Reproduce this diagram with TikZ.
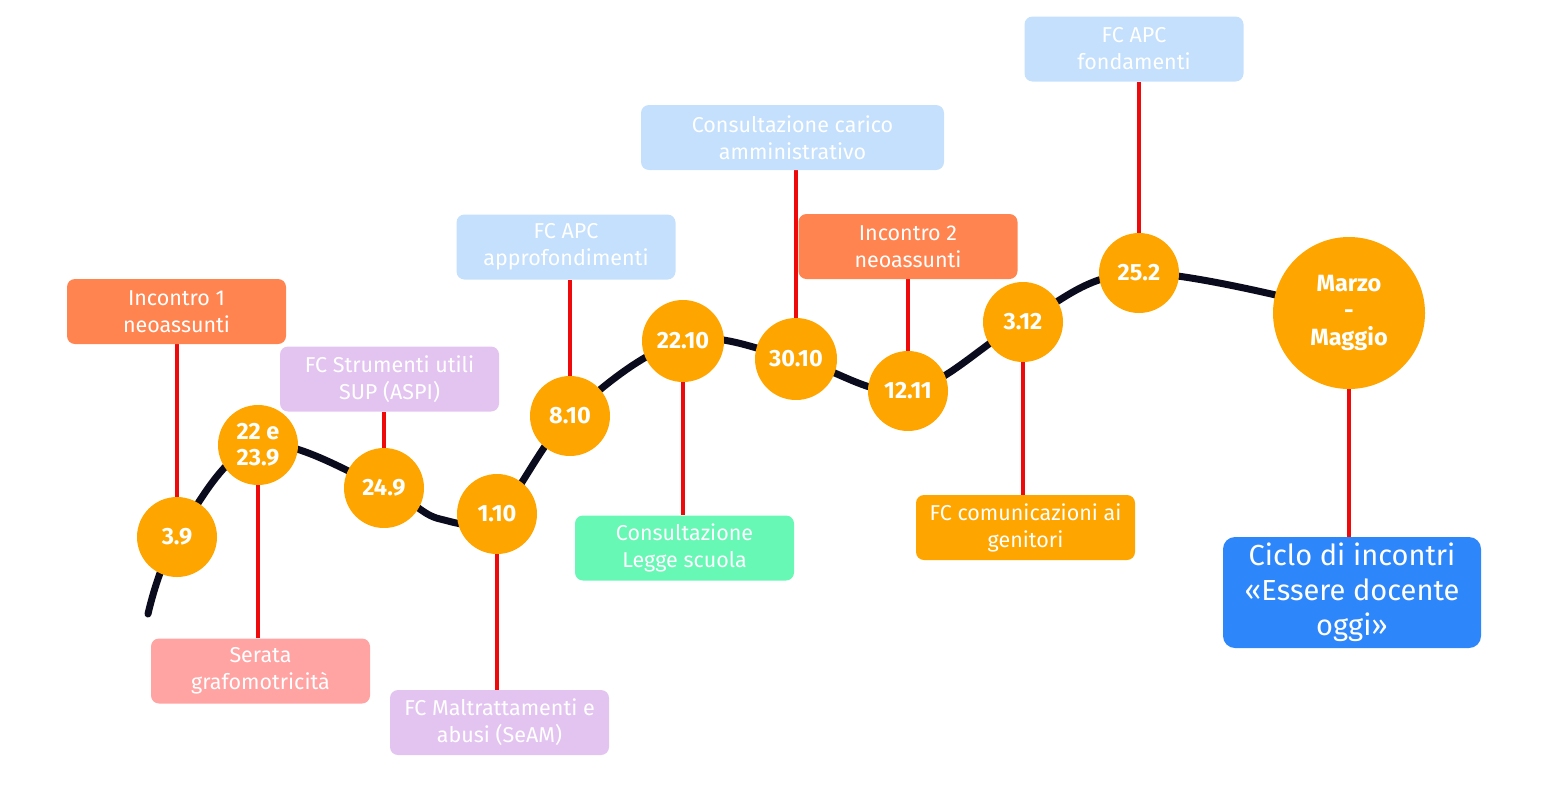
\documentclass[tikz,border=0pt]{standalone}
\usepackage{fontspec}
\setmainfont{Fira Sans}
\usepackage{tikz}
\usetikzlibrary{backgrounds}

\definecolor{dateorange}{HTML}{FFA500}
\definecolor{coral}{HTML}{FF8450}
\definecolor{lilac}{HTML}{E3C4F0}
\definecolor{rose}{HTML}{FFA3A3}
\definecolor{sky}{HTML}{C4E0FC}
\definecolor{mint}{HTML}{66F8B4}
\definecolor{royal}{HTML}{2E86FB}
\definecolor{stemred}{HTML}{EE0A0A}
\definecolor{wavedark}{HTML}{0B0B1E}

\begin{document}
\begin{tikzpicture}[x=1pt, y=-1pt,
  date/.style={circle, fill=dateorange, text=white, align=center, inner sep=0pt, minimum size=80pt,
    font=\bfseries\fontsize{23.5}{26}\selectfont},
  box/.style={rounded corners=8pt, text=white, align=center, inner sep=2pt, minimum width=219pt,
    minimum height=65pt, font=\fontsize{21.5}{27}\selectfont},
  stem/.style={draw=stemred, line width=4pt},
  wave/.style={draw=wavedark, line width=7pt, line cap=round}]
  \useasboundingbox (0,0) rectangle (1546,804);

  % dates along the timeline
  \node[date] (d1) at (177,537) {3.9};
  \node[date] (d2) at (258,445) {22 e\\23.9};
  \node[date] (d3) at (384,488) {24.9};
  \node[date] (d4) at (497,514) {1.10};
  \node[date] (d5) at (570,416) {8.10};
  \node[date, minimum size=82pt] (d6) at (683,341) {22.10};
  \node[date, minimum size=82pt] (d7) at (796,359) {30.10};
  \node[date] (d8) at (908,391) {12.11};
  \node[date] (d9) at (1023,322) {3.12};
  \node[date] (d10) at (1139,273) {25.2};
  \node[date, minimum size=152pt, font=\bfseries\fontsize{23.5}{27}\selectfont] (d11) at (1349,313) {Marzo\\-\\Maggio};

  % events
  \node[box, fill=coral] (b1) at (176.5,311.5) {Incontro 1\\neoassunti};
  \node[box, fill=rose] (b2) at (260.5,671) {Serata\\grafomotricità};
  \node[box, fill=lilac] (b3) at (389.5,379) {FC Strumenti utili\\SUP (ASPI)};
  \node[box, fill=lilac] (b4) at (499.5,722.5) {FC Maltrattamenti e\\abusi (SeAM)};
  \node[box, fill=sky] (b5) at (566,247) {FC APC\\approfondimenti};
  \node[box, fill=mint] (b6) at (684.5,548) {Consultazione\\Legge scuola};
  \node[box, fill=sky, minimum width=303pt] (b7) at (792.5,137.5) {Consultazione carico\\amministrativo};
  \node[box, fill=coral] (b8) at (908,246.5) {Incontro 2\\neoassunti};
  \node[box, fill=dateorange] (b9) at (1025.5,527.5) {FC comunicazioni ai\\genitori};
  \node[box, fill=sky] (b10) at (1134,49) {FC APC\\fondamenti};
  \node[box, fill=royal, minimum width=258pt, minimum height=111pt, rounded corners=12pt,
    font=\fontsize{29}{35}\selectfont] (b11) at (1352,592.5) {Ciclo di incontri\\«Essere docente\\oggi»};

  \coordinate (s) at (148,614);
  \coordinate (k1) at (440,519);

  \begin{pgfonlayer}{background}
    \draw[wave] plot[smooth, tension=0.6] coordinates
      {(s) (d1) (d2) (d3) (k1) (d4) (d5) (d6) (d7) (d8) (d9) (d10) (d11)};
    \path[stem]
    (d1) edge (d1 |- b1.south)
    (d2) edge (d2 |- b2.north)
    (d3) edge (d3 |- b3.south)
    (d4) edge (d4 |- b4.north)
    (d5) edge (d5 |- b5.south)
    (d6) edge (d6 |- b6.north)
    (d7) edge (d7 |- b7.south)
    (d8) edge (d8 |- b8.south)
    (d9) edge (d9 |- b9.north)
    (d10) edge (d10 |- b10.south)
    (d11) edge (d11 |- b11.north)
    ;
  \end{pgfonlayer}
\end{tikzpicture}
\end{document}
